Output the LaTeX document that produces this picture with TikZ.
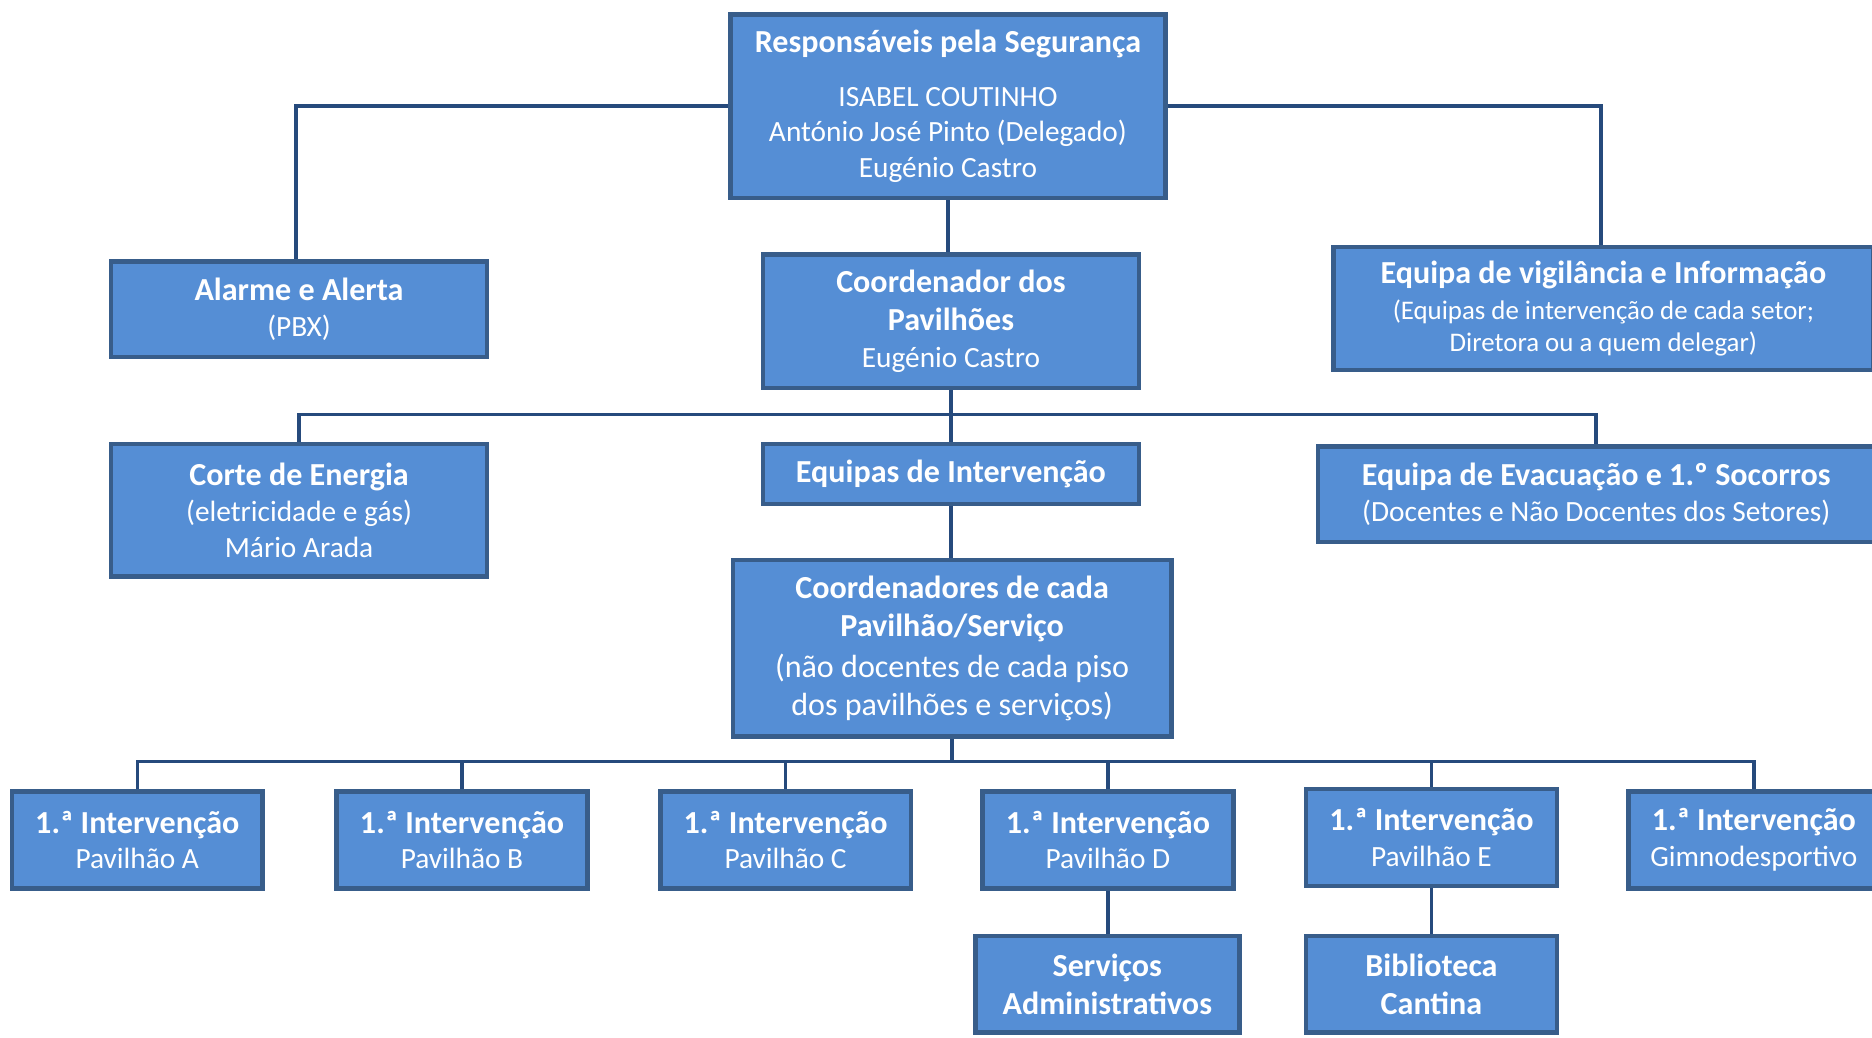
\documentclass[tikz,border=0pt]{standalone}
\usepackage{fontspec}
\setmainfont{Carlito}
\definecolor{boxfill}{HTML}{558ED5}
\definecolor{boxline}{HTML}{385D8A}
\definecolor{connline}{HTML}{264A7C}
\newcommand{\pu}{0.02cm}
\newcommand{\hd}[1]{{\fontsize{15.3}{17}\selectfont\bfseries #1}}
\newcommand{\sm}[1]{{\fontsize{12.8}{15.3}\selectfont #1}}
\begin{document}
\begin{tikzpicture}[x=0.02cm,y=-0.02cm,
  box/.style={draw=boxline, fill=boxfill, line width=2.2pt, text=white, align=center, inner sep=0pt,
    font=\fontsize{14}{17}\selectfont},
  bigbox/.style={box, font=\fontsize{15.3}{18}\selectfont},
  conn/.style={draw=connline, line width=1.7pt}]
\useasboundingbox (0,0) rectangle (1568,869);

\node[box, minimum width=364*\pu, minimum height=154*\pu] (r) at (794,89)
  {\hd{Responsáveis pela Segurança}\\[8.5pt]ISABEL COUTINHO\\António José Pinto (Delegado)\\Eugénio Castro};
\node[box, minimum width=315*\pu, minimum height=80*\pu] (alarme) at (250.5,259)
  {\hd{Alarme e Alerta}\\[0.5pt](PBX)};
\node[box, minimum width=315*\pu, minimum height=112*\pu] (cp) at (796.5,269)
  {\hd{Coordenador dos}\\[1.3pt]\hd{Pavilhões}\\[0.8pt]Eugénio Castro};
\node[box, minimum width=452*\pu, minimum height=103*\pu] (vig) at (1343,258.5)
  {\hd{Equipa de vigilância e Informação}\\\sm{(Equipas de intervenção de cada setor;}\\[-1.5pt]\sm{Diretora ou a quem delegar)}};
\node[box, minimum width=315*\pu, minimum height=111*\pu] (corte) at (250.5,427.5)
  {\hd{Corte de Energia}\\(eletricidade e gás)\\Mário Arada};
\node[box, minimum width=315*\pu, minimum height=50*\pu] (ei) at (796.5,397)
  {\hd{Equipas de Intervenção}};
\node[box, minimum width=466*\pu, minimum height=80*\pu] (evac) at (1337,414)
  {\hd{Equipa de Evacuação e 1.º Socorros}\\[0.5pt](Docentes e Não Docentes dos Setores)};
\node[bigbox, minimum width=367*\pu, minimum height=148*\pu] (cc) at (797.5,543)
  {\hd{Coordenadores de cada}\\[0.3pt]\hd{Pavilhão/Serviço}\\[1.3pt](não docentes de cada piso\\[0.3pt]dos pavilhões e serviços)};
\node[box, minimum width=210*\pu, minimum height=81*\pu] (pa) at (115,703.5)
  {\hd{1.ª Intervenção}\\Pavilhão A};
\node[box, minimum width=210*\pu, minimum height=81*\pu] (pb) at (387,703.5)
  {\hd{1.ª Intervenção}\\Pavilhão B};
\node[box, minimum width=210*\pu, minimum height=81*\pu] (pc) at (658,703.5)
  {\hd{1.ª Intervenção}\\Pavilhão C};
\node[box, minimum width=210*\pu, minimum height=81*\pu] (pd) at (928,703.5)
  {\hd{1.ª Intervenção}\\Pavilhão D};
\node[box, minimum width=210*\pu, minimum height=81*\pu] (pe) at (1199,701.5)
  {\hd{1.ª Intervenção}\\Pavilhão E};
\node[box, minimum width=210*\pu, minimum height=81*\pu] (pg) at (1469,703.5)
  {\hd{1.ª Intervenção}\\Gimnodesportivo};
\node[box, minimum width=221*\pu, minimum height=81*\pu] (sa) at (927.5,824.5)
  {\hd{Serviços}\\[1pt]\hd{Administrativos}};
\node[box, minimum width=210*\pu, minimum height=81*\pu] (bc) at (1199,824.5)
  {\hd{Biblioteca}\\[1pt]\hd{Cantina}};

\coordinate (bus1) at (794,347);
\coordinate (bus2) at (794,638);

\draw[conn] (r.west) -| ([xshift=-2.5*\pu]alarme.north);
\draw[conn] (r.east) -| ([xshift=-2*\pu]vig.north);
\draw[conn] (r.south) -- (r.south |- cp.north);
\draw[conn] (cp.south) -- (cp.south |- ei.north);
\draw[conn] (corte.north) |- (evac.north |- bus1) -- (evac.north);
\draw[conn] (ei.south) -- (ei.south |- cc.north);
\draw[conn] (cc.south) -- (cc.south |- bus2);
\draw[conn] (pa.north) |- (pg.north |- bus2) -- (pg.north);
\draw[conn] (pb.north) -- (pb.north |- bus2);
\draw[conn] (pc.north) -- (pc.north |- bus2);
\draw[conn] (pd.north) -- (pd.north |- bus2);
\draw[conn] (pe.north) -- (pe.north |- bus2);
\draw[conn] (pd.south) -- (pd.south |- sa.north);
\draw[conn] (pe.south) -- (pe.south |- bc.north);
\end{tikzpicture}
\end{document}
